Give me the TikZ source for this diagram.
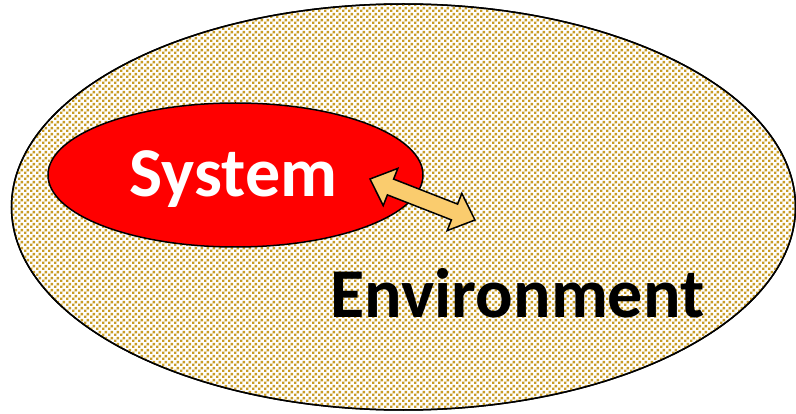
\documentclass[tikz,border=0pt]{standalone}
\usepackage{fontspec}
\setmainfont{Carlito}
\usetikzlibrary{shapes.geometric,patterns}

% small staggered confetti dots
\pgfdeclarepatternformonly{confetti}{\pgfpointorigin}{\pgfqpoint{6pt}{6pt}}{\pgfqpoint{6pt}{6pt}}{%
  \pgfpathrectangle{\pgfqpoint{0.2pt}{0.2pt}}{\pgfqpoint{2.7pt}{2.7pt}}%
  \pgfpathrectangle{\pgfqpoint{3.2pt}{3.2pt}}{\pgfqpoint{2.7pt}{2.7pt}}%
  \pgfusepath{fill}}

\definecolor{dotgold}{RGB}{200,156,38}
\definecolor{arrowfill}{RGB}{250,204,110}

\tikzset{
  region/.style={ellipse, draw=black, line width=1.5pt, inner sep=0pt},
  label/.style={font=\bfseries\fontsize{70}{70}\selectfont, inner sep=0pt, anchor=base},
  blockarrow/.style={draw=black, line width=1.5pt, fill=arrowfill, line join=miter}
}

\begin{document}
\begin{tikzpicture}[x=1pt,y=-1pt]
  \useasboundingbox (0,0) rectangle (796,414);

  % environment: white ground with dotted fill
  \node[region, fill=white, minimum width=784pt, minimum height=406pt] (envbg) at (403.5,207) {};
  \fill[pattern=confetti, pattern color=dotgold] (403.5,207) ellipse [x radius=391.5pt, y radius=202.5pt];
  \node[region, minimum width=784pt, minimum height=406pt] (environment) at (403.5,207) {};

  % system
  \node[region, fill=red, minimum width=375pt, minimum height=144pt] (system) at (235.5,175) {};
  \node[label, text=white] (systemlabel) at (233.5,197) {System};
  \node[label, text=black] (envlabel) at (517.5,318) {Environment};

  % exchange between system and environment
  \coordinate (tipA) at (370,179);
  \coordinate (tipB) at (475,220);
  \draw[blockarrow] (tipA) -- (397.8,168.4) -- (393.6,179.1) -- (457.6,204.1)
    -- (461.8,193.4) -- (tipB) -- (447.2,230.6) -- (451.4,219.9)
    -- (387.4,194.9) -- (383.2,205.6) -- cycle;
\end{tikzpicture}
\end{document}
